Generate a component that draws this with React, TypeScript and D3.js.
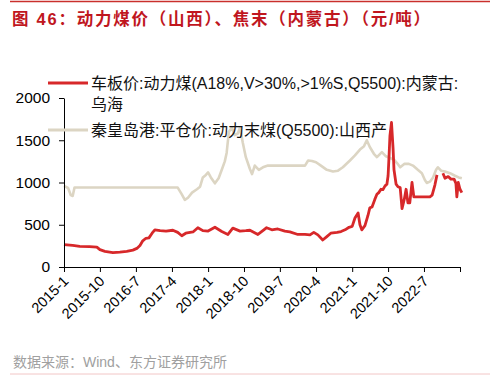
import { useEffect, useRef } from "react";
import * as d3 from "d3";

// 车板价:动力煤 内蒙古 乌海 (null = 缺数据)
const redDates = [
    "2015-01-01", "2015-03-08", "2015-05-01", "2015-07-15", "2015-09-08", "2015-10-01", "2015-11-08",
    "2016-01-08", "2016-03-01", "2016-04-22", "2016-06-08", "2016-07-08", "2016-08-01", "2016-08-22",
    "2016-09-15", "2016-10-08", "2016-11-01", "2016-11-22", "2017-01-01", "2017-02-15", "2017-04-08",
    "2017-05-15", "2017-06-15", "2017-07-15", "2017-09-08", "2017-10-15", "2017-11-22", "2018-01-01",
    "2018-02-22", "2018-04-15", "2018-06-01", "2018-07-08", "2018-09-01", "2018-10-15", "2018-11-15",
    "2019-01-15", "2019-03-01", "2019-03-22", "2019-05-01", "2019-06-15", "2019-08-08", "2019-09-15",
    "2019-11-15", "2020-01-08", "2020-02-15", "2020-03-15", "2020-04-15", "2020-05-22", "2020-06-22",
    "2020-07-22", "2020-09-08", "2020-10-08", "2020-11-08", "2020-12-08", "2021-01-01", "2021-01-22",
    "2021-02-15", "2021-03-01", "2021-03-15", "2021-04-08", "2021-05-01", "2021-05-15", "2021-06-01",
    "2021-06-22", "2021-07-08", "2021-07-22", "2021-08-08", "2021-08-22", "2021-09-08", "2021-09-22",
    "2021-10-01", "2021-10-08", "2021-10-15", "2021-10-27", "2021-11-08", "2021-11-15", "2021-12-01",
    "2021-12-15", "2022-01-01", "2022-01-15", "2022-02-01", "2022-02-15", "2022-03-01", "2022-03-15",
    "2022-04-01", "2022-04-15", "2022-06-01", "2022-08-15", "2022-09-01", "2022-09-22", "2022-10-08",
    "2022-10-15", "2022-11-08", "2022-11-22", "2022-12-08", "2023-01-01", "2023-01-22", "2023-02-15",
    "2023-03-01", "2023-03-08", "2023-03-19", "2023-04-01", "2023-04-15"
];
const redValues = [
    265, 255, 245, 240, 235, 205, 185,
    170, 175, 185, 200, 220, 255, 310,
    340, 345, 400, 440, 430, 425, 435,
    410, 370, 400, 415, 465, 430, 425,
    470, 420, 385, 460, 425, 430, 435,
    385, 440, 465, 440, 450, 425, 415,
    385, 385, 380, 410, 380, 320, 360,
    400, 410, 420, 440, 470, 480, 580,
    640, 500, 440, 490, 610, 700, 710,
    800, 860, 880, 920, 915, 960, 980,
    1080, 1300, 1550, 1710, 1400, 1150, 980,
    950, 940, 690, 800, 920, 760, 760,
    1000, 830, 830, 830, 850, 970, 1090,
    null, null, 1110, 1050, 1070, 1040, 1040,
    990, 830, 1000, 920, 880
];

// 秦皇岛港:平仓价:动力末煤(Q5500):山西产
const beigeDates = [
    "2015-01-01", "2015-02-01", "2015-02-22", "2015-03-08", "2015-03-22", "2017-05-15", "2017-06-15",
    "2017-07-08", "2017-08-01", "2017-09-01", "2017-10-08", "2017-11-01", "2017-11-22", "2017-12-15",
    "2018-01-01", "2018-01-22", "2018-02-22", "2018-03-22", "2018-04-15", "2018-05-08", "2018-05-22",
    "2018-06-08", "2018-07-01", "2018-07-22", "2018-08-15", "2018-09-01", "2018-09-22", "2018-10-15",
    "2018-11-15", "2018-12-01", "2018-12-22", "2019-01-22", "2019-02-22", "2019-04-01", "2020-01-08",
    "2020-02-01", "2020-03-01", "2020-04-01", "2020-05-08", "2020-06-22", "2020-08-08", "2020-09-15",
    "2020-10-22", "2020-12-15", "2021-01-22", "2021-03-01", "2021-04-01", "2021-04-22", "2021-05-15",
    "2021-06-15", "2021-07-08", "2021-08-15", "2021-09-15", "2021-10-15", "2021-11-15", "2021-12-08",
    "2022-01-01", "2022-02-01", "2022-03-08", "2022-04-08", "2022-05-15", "2022-06-15", "2022-07-08",
    "2022-07-22", "2022-08-15", "2022-09-08", "2022-10-01", "2022-10-15", "2022-11-08", "2022-12-08",
    "2023-01-15", "2023-02-22", "2023-03-22", "2023-04-15"
];
const beigeValues = [
    960, 935, 850, 840, 940, 940, 860,
    795, 820, 880, 920, 950, 1060, 1090,
    1120, 1060, 990, 1050, 1150, 1250, 1350,
    1600, 1650, 1560, 1580, 1650, 1470, 1300,
    1160, 1100, 1200, 1150, 1180, 1200, 1200,
    1260, 1255, 1240, 1200, 1150, 1130, 1140,
    1180, 1260, 1320, 1390, 1430, 1500, 1420,
    1340, 1300, 1360, 1310, 1290, 1270, 1230,
    1180, 1220, 1220, 1200, 1150, 1110, 1030,
    995, 1010, 1060, 1150, 1180, 1140, 1130,
    1110, 1080, 1060, 1050
];

const xTickDates = [
    "2015-01-01", "2015-10-01", "2016-07-01", "2017-04-01", "2018-01-01", "2018-10-01",
    "2019-07-01", "2020-04-01", "2021-01-01", "2021-10-01", "2022-07-01", "2023-04-01"
];
const xTickLabels = [
    "2015-1", "2015-10", "2016-7", "2017-4", "2018-1", "2018-10",
    "2019-7", "2020-4", "2021-1", "2021-10", "2022-7", ""
];
const yTicks = [0, 500, 1000, 1500, 2000];

const seriesNames = [
    "车板价:动力煤(A18%,V>30%,>1%S,Q5500):内蒙古:",
    "秦皇岛港:平仓价:动力末煤(Q5500):山西产"
];

const width = 497;
const height = 375;
const font = "'Liberation Sans', Arial, 'Noto Sans CJK SC', sans-serif";
const redColor = "#d7282a";
const beigeColor = "#dcd5c3";

export default function App() {
    const ref = useRef<SVGSVGElement>(null);

    useEffect(() => {
        const svg = d3.select(ref.current);
        svg.selectAll("*").remove();

        const parse = d3.timeParse("%Y-%m-%d");
        const marginLeft = 64;
        const plotRight = 460;
        const plotTop = 98;
        const plotBottom = 267;

        const xScale = d3.scaleTime()
            .domain([parse("2015-01-01")!, parse("2023-04-01")!])
            .range([marginLeft, plotRight]);
        const yScale = d3.scaleLinear().domain([0, 2000]).range([plotBottom, plotTop]);

        // top rule + title
        svg.append("line")
            .attr("x1", 10).attr("x2", 490).attr("y1", 1.5).attr("y2", 1.5)
            .attr("stroke", "#c9302c").attr("stroke-width", 1.5);
        svg.append("text")
            .attr("x", 12).attr("y", 25)
            .attr("fill", "#c0161e")
            .attr("font-size", 16.5)
            .attr("font-weight", "bold")
            .attr("font-family", font)
            .attr("textLength", 418)
            .attr("lengthAdjust", "spacing")
            .text("图 46：动力煤价（山西）、焦末（内蒙古）（元/吨）");

        // lines
        const redData = redDates.map((d, i) => ({ date: parse(d)!, value: redValues[i] }));
        const beigeData = beigeDates.map((d, i) => ({ date: parse(d)!, value: beigeValues[i] }));

        const line = d3.line<{ date: Date; value: number | null }>()
            .defined(d => d.value !== null)
            .x(d => xScale(d.date))
            .y(d => yScale(d.value as number));

        svg.append("path")
            .datum(beigeData)
            .attr("fill", "none")
            .attr("stroke", beigeColor)
            .attr("stroke-width", 2.6)
            .attr("stroke-linejoin", "round")
            .attr("d", line);

        svg.append("path")
            .datum(redData)
            .attr("fill", "none")
            .attr("stroke", redColor)
            .attr("stroke-width", 2.8)
            .attr("stroke-linejoin", "round")
            .attr("d", line);

        // y axis
        const yAxis = d3.axisLeft(yScale)
            .tickValues(yTicks)
            .tickFormat(d3.format("d"))
            .tickSize(5)
            .tickSizeOuter(0)
            .tickPadding(9);
        svg.append("g")
            .attr("transform", `translate(${marginLeft},0)`)
            .call(yAxis)
            .call(g => g.select(".domain").attr("stroke", "#000"))
            .call(g => g.selectAll(".tick line").attr("stroke", "#000"))
            .call(g => g.selectAll(".tick text")
                .attr("fill", "#000")
                .attr("font-size", 15.5)
                .attr("font-family", font));

        // x axis
        const tickDates = xTickDates.map(d => parse(d)!);
        const xAxis = d3.axisBottom(xScale)
            .tickValues(tickDates)
            .tickSize(5)
            .tickSizeOuter(0)
            .tickFormat((d, i) => xTickLabels[i]);
        svg.append("g")
            .attr("transform", `translate(0,${plotBottom})`)
            .call(xAxis)
            .call(g => g.select(".domain").attr("stroke", "#000"))
            .call(g => g.selectAll(".tick line").attr("stroke", "#000"))
            .call(g => g.selectAll(".tick text")
                .attr("fill", "#000")
                .attr("font-size", 14.5)
                .attr("font-family", font)
                .attr("text-anchor", "end")
                .attr("dy", null)
                .attr("y", 0)
                .attr("transform", "translate(5,15) rotate(-45)"));

        // legend
        const legend = svg.append("g").attr("font-family", font).attr("font-size", 16).attr("fill", "#111");
        legend.append("line")
            .attr("x1", 48).attr("x2", 88).attr("y1", 83).attr("y2", 83)
            .attr("stroke", redColor).attr("stroke-width", 3);
        legend.append("text").attr("x", 91).attr("y", 89).text(seriesNames[0]);
        legend.append("text").attr("x", 91).attr("y", 110).text("乌海");
        legend.append("line")
            .attr("x1", 48).attr("x2", 88).attr("y1", 130).attr("y2", 130)
            .attr("stroke", beigeColor).attr("stroke-width", 3);
        legend.append("text").attr("x", 91).attr("y", 136).text(seriesNames[1]);

        // source + bottom rule
        svg.append("text")
            .attr("x", 13).attr("y", 367)
            .attr("fill", "#a0a0a0")
            .attr("font-size", 14)
            .attr("font-family", font)
            .text("数据来源：Wind、东方证券研究所");
        svg.append("line")
            .attr("x1", 10).attr("x2", 490).attr("y1", 374).attr("y2", 374)
            .attr("stroke", "#f2c6c6").attr("stroke-width", 1);
    }, []);

    return (
        <div style={{ position: "fixed", left: 0, top: 0, background: "#fff" }}>
            <svg ref={ref} width={width} height={height} style={{ display: "block" }} />
        </div>
    );
}
